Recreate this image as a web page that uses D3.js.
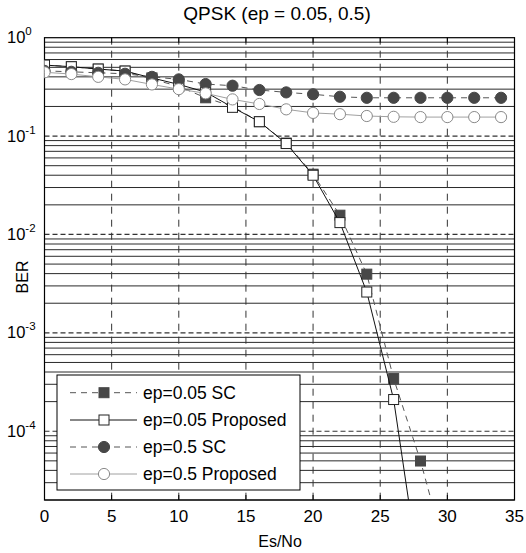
<!DOCTYPE html>
<html><head><meta charset="utf-8">
<script src="https://cdn.jsdelivr.net/npm/d3@7"></script>
<style>body{margin:0;background:#fff}svg{display:block;font-family:"Liberation Sans",Arial,sans-serif}</style>
</head><body><svg id="c" width="526" height="553"></svg>
<script>
const titleText = "QPSK (ep = 0.05, 0.5)";
const xLabel = "Es/No";
const yLabel = "BER";
const xTicks = [0, 5, 10, 15, 20, 25, 30, 35];
const yDecades = [0, -1, -2, -3, -4];
const esNo = [0, 2, 4, 6, 8, 10, 12, 14, 16, 18, 20, 22, 24, 26, 28, 30, 32, 34];
const sc005 = [0.527, 0.507, 0.48, 0.458, 0.38, 0.32, 0.245, 0.20, 0.14, 0.085, 0.041, 0.0157, 0.00395, 3.43e-4, 4.98e-5, 5e-6];
const prop005 = [0.527, 0.507, 0.48, 0.458, 0.39, 0.335, 0.28, 0.196, 0.14, 0.084, 0.040, 0.0132, 0.0026, 2.1e-4, 3e-6];
const sc05 = [0.46, 0.45, 0.44, 0.43, 0.40, 0.377, 0.338, 0.325, 0.294, 0.278, 0.266, 0.251, 0.245, 0.245, 0.245, 0.245, 0.245, 0.245];
const prop05 = [0.445, 0.427, 0.40, 0.377, 0.335, 0.30, 0.272, 0.236, 0.212, 0.187, 0.172, 0.167, 0.16, 0.157, 0.156, 0.156, 0.156, 0.156];
const seriesNames = ["ep=0.05 SC", "ep=0.05 Proposed", "ep=0.5 SC", "ep=0.5 Proposed"];

const svg = d3.select("#c");
const L = 44.5, R = 514.5, T = 37.7, B = 500;
const x = d3.scaleLinear().domain([0, 35]).range([L, R]);
const y = d3.scaleLog().domain([2e-5, 1]).range([B, T]);

svg.append("defs").append("clipPath").attr("id", "clip")
  .append("rect").attr("x", L).attr("y", T).attr("width", R - L).attr("height", B - T);

// grid
const grid = svg.append("g");
const minor = [];
for (let d = -5; d < 0; d++) for (let m = 2; m <= 9; m++) {
  const v = m * Math.pow(10, d);
  if (v >= 2e-5 && v < 1) minor.push(v);
}
grid.selectAll("line.mn").data(minor).join("line")
  .attr("x1", L).attr("x2", R).attr("y1", d => y(d)).attr("y2", d => y(d))
  .attr("stroke", "#2a2a2a").attr("stroke-width", 1);
grid.selectAll("line.mj").data(yDecades.filter(d => d < 0)).join("line")
  .attr("x1", L).attr("x2", R).attr("y1", d => y(Math.pow(10, d))).attr("y2", d => y(Math.pow(10, d)))
  .attr("stroke", "#333").attr("stroke-width", 1.2).attr("stroke-dasharray", "5,3");
grid.selectAll("line.vx").data(xTicks.slice(1, -1)).join("line")
  .attr("x1", d => x(d)).attr("x2", d => x(d)).attr("y1", T).attr("y2", B)
  .attr("stroke", "#333").attr("stroke-width", 1).attr("stroke-dasharray", "7,6");

// axes box
svg.append("rect").attr("x", L).attr("y", T).attr("width", R - L).attr("height", B - T)
  .attr("fill", "none").attr("stroke", "#000").attr("stroke-width", 1.2);

// x ticks
const xa = svg.append("g");
xa.selectAll("line.tb").data(xTicks).join("line")
  .attr("x1", d => x(d)).attr("x2", d => x(d)).attr("y1", B).attr("y2", B - 5).attr("stroke", "#000");
xa.selectAll("line.tt").data(xTicks).join("line")
  .attr("x1", d => x(d)).attr("x2", d => x(d)).attr("y1", T).attr("y2", T + 5).attr("stroke", "#000");
xa.selectAll("text").data(xTicks).join("text")
  .attr("x", d => x(d)).attr("y", 521.5).attr("text-anchor", "middle")
  .attr("font-size", 17).text(d => d);

// y tick labels
const ya = svg.append("g");
yDecades.forEach(d => {
  const t = ya.append("text").attr("x", 7).attr("y", y(Math.pow(10, d)) + 5.5).attr("font-size", 16.5);
  t.append("tspan").text("10");
  t.append("tspan").attr("dy", -8).attr("font-size", 11.5).text(String(d));
});

// labels
svg.append("text").attr("x", 277).attr("y", 20).attr("text-anchor", "middle").attr("font-size", 19).text(titleText);
svg.append("text").attr("x", 280).attr("y", 546.5).attr("text-anchor", "middle").attr("font-size", 16).text(xLabel);
svg.append("text").attr("transform", "translate(28,277) rotate(-90)").attr("text-anchor", "middle").attr("font-size", 16).text(yLabel);

// series
const styles = [
  { vals: sc005, line: "#555", dash: "6,5", marker: "square", fill: "#474747", stroke: "#474747" },
  { vals: prop005, line: "#111", dash: null, marker: "square", fill: "#fff", stroke: "#222" },
  { vals: sc05, line: "#555", dash: "6,5", marker: "circle", fill: "#474747", stroke: "#474747" },
  { vals: prop05, line: "#a0a0a0", dash: null, marker: "circle", fill: "#fff", stroke: "#8a8a8a" }
];
const lineGen = d3.line().x(d => x(d[0])).y(d => y(d[1]));
const plot = svg.append("g").attr("clip-path", "url(#clip)");
function drawMarker(g, type, cx, cy, s) {
  if (type === "square") {
    g.append("rect").attr("x", cx - 5).attr("y", cy - 5).attr("width", 10).attr("height", 10)
      .attr("fill", s.fill).attr("stroke", s.stroke).attr("stroke-width", 1);
  } else {
    g.append("circle").attr("cx", cx).attr("cy", cy).attr("r", 5.6)
      .attr("fill", s.fill).attr("stroke", s.stroke).attr("stroke-width", 1);
  }
}
styles.forEach(s => {
  const pts = s.vals.map((v, i) => [esNo[i], v]);
  plot.append("path").attr("d", lineGen(pts)).attr("fill", "none")
    .attr("stroke", s.line).attr("stroke-width", 1).attr("stroke-dasharray", s.dash);
  pts.forEach(p => drawMarker(plot, s.marker, x(p[0]), y(p[1]), s));
});

// legend
const lg = svg.append("g");
lg.append("rect").attr("x", 57).attr("y", 375).attr("width", 243).attr("height", 115)
  .attr("fill", "#fff").attr("stroke", "#000").attr("stroke-width", 1);
const rowsY = [392.7, 420, 447, 474];
styles.forEach((s, i) => {
  const yy = rowsY[i];
  lg.append("line").attr("x1", 70).attr("x2", 137).attr("y1", yy).attr("y2", yy)
    .attr("stroke", s.line).attr("stroke-width", 1).attr("stroke-dasharray", s.dash);
  drawMarker(lg, s.marker, 104, yy, s);
  lg.append("text").attr("x", 143).attr("y", yy + 6).attr("font-size", 17.5).text(seriesNames[i]);
});
</script></body></html>
